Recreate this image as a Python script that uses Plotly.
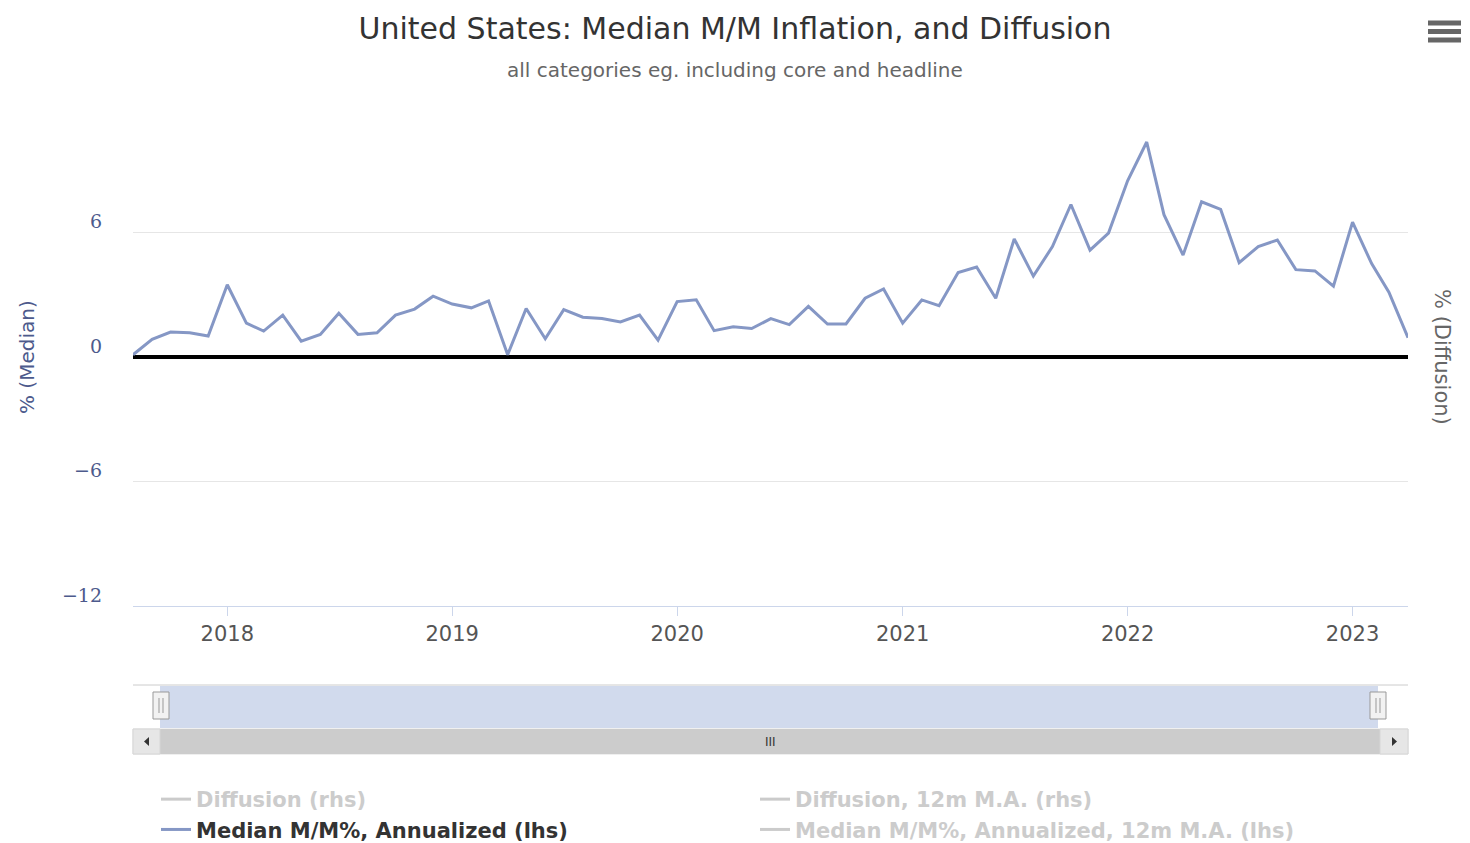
import plotly.graph_objects as go
import pandas as pd

# ---------------- data ----------------
months = pd.date_range("2017-08-01", "2023-04-01", freq="MS")
median_mm_annualized = [
    0.11, 0.85, 1.20, 1.17, 1.01,                     # 2017 Aug-Dec
    3.48, 1.63, 1.25, 2.02, 0.76, 1.09, 2.11, 1.09, 1.17, 2.02, 2.31, 2.93,  # 2018
    2.55, 2.37, 2.70, 0.11, 2.34, 0.88, 2.28, 1.92, 1.85, 1.69, 2.02, 0.81,  # 2019
    2.67, 2.76, 1.27, 1.46, 1.37, 1.85, 1.56, 2.44, 1.59, 1.59, 2.83, 3.28,  # 2020
    1.63, 2.75, 2.47, 4.07, 4.34, 2.83, 5.69, 3.90, 5.32, 7.35, 5.15, 5.97,  # 2021
    8.49, 10.36, 6.86, 4.91, 7.48, 7.11, 4.55, 5.32, 5.64, 4.21, 4.15, 3.41, # 2022
    6.50, 4.50, 3.12, 0.93,                            # 2023 Jan-Apr
]
# hidden (legend-only) series: values not shown in the chart
diffusion = [None] * len(months)
diffusion_12m_ma = [None] * len(months)
median_12m_ma = [None] * len(months)

series_names = [
    "Diffusion (rhs)",
    "Diffusion, 12m M.A. (rhs)",
    "Median M/M%, Annualized (lhs)",
    "Median M/M%, Annualized, 12m M.A. (lhs)",
]
y_tick_vals = [-12, -6, 0, 6, 12]
y_tick_text = ["\u221212", "\u22126", "0", "6", ""]

# ---------------- geometry helpers (decoration only) ----------------
OFF = 8                      # default page body margin
W, H = 1470 - OFF, 843 - OFF
L, R, T, B = 133 - OFF, 62, 108 - OFF, 237
PW, PH = W - L - R, H - T - B


def px(x):
    """page pixel x -> paper x"""
    return (x - OFF - L) / PW


def py(y):
    """page pixel y -> paper y"""
    return (OFF + H - B - y) / PH


LINE_COLOR = "#8597c5"
HIDDEN_LINE = "#999999"
HIDDEN_TXT = "#9a9a9a"

fig = go.Figure()

fig.add_trace(go.Scatter(
    x=months, y=diffusion, mode="lines", yaxis="y2", visible="legendonly",
    name=f"<span style='color:{HIDDEN_TXT}'>{series_names[0]}</span>",
    line=dict(color=HIDDEN_LINE, width=3)))
fig.add_trace(go.Scatter(
    x=months, y=diffusion_12m_ma, mode="lines", yaxis="y2", visible="legendonly",
    name=f"<span style='color:{HIDDEN_TXT}'>{series_names[1]}</span>",
    line=dict(color=HIDDEN_LINE, width=3)))
fig.add_trace(go.Scatter(
    x=months, y=median_mm_annualized, mode="lines",
    name=series_names[2],
    line=dict(color=LINE_COLOR, width=3)))
fig.add_trace(go.Scatter(
    x=months, y=median_12m_ma, mode="lines", visible="legendonly",
    name=f"<span style='color:{HIDDEN_TXT}'>{series_names[3]}</span>",
    line=dict(color=HIDDEN_LINE, width=3)))

shapes = []
# navigator outline
shapes.append(dict(type="line", xref="paper", yref="paper",
                   x0=px(133), x1=px(1408), y0=py(685), y1=py(685),
                   line=dict(color="#cccccc", width=1)))
# navigator mask
shapes.append(dict(type="rect", xref="paper", yref="paper",
                   x0=px(160), x1=px(1378), y0=py(686), y1=py(728),
                   fillcolor="rgba(102,133,194,0.3)", line=dict(width=0), layer="below"))
# scrollbar background
shapes.append(dict(type="rect", xref="paper", yref="paper",
                   x0=px(133), x1=px(1408), y0=py(729), y1=py(754),
                   fillcolor="#f2f2f2", line=dict(color="#e0e0e0", width=1), layer="below"))
# scrollbar thumb
shapes.append(dict(type="rect", xref="paper", yref="paper",
                   x0=px(160), x1=px(1380), y0=py(729), y1=py(754),
                   fillcolor="#cccccc", line=dict(width=0), layer="below"))
# scrollbar buttons
for x0, x1 in [(133, 160), (1380, 1408)]:
    shapes.append(dict(type="rect", xref="paper", yref="paper",
                       x0=px(x0), x1=px(x1), y0=py(729), y1=py(754),
                       fillcolor="#e6e6e6", line=dict(color="#d6d6d6", width=1), layer="below"))
# arrows
shapes.append(dict(type="path", xref="paper", yref="paper",
                   path=f"M {px(144)} {py(741.5)} L {px(149)} {py(737)} L {px(149)} {py(746)} Z",
                   fillcolor="#333333", line=dict(width=0)))
shapes.append(dict(type="path", xref="paper", yref="paper",
                   path=f"M {px(1397)} {py(741.5)} L {px(1392)} {py(737)} L {px(1392)} {py(746)} Z",
                   fillcolor="#333333", line=dict(width=0)))
# handles
for cx in (161, 1378):
    shapes.append(dict(type="rect", xref="paper", yref="paper",
                       x0=px(cx - 8), x1=px(cx + 8), y0=py(692), y1=py(719),
                       fillcolor="#f2f2f2", line=dict(color="#999999", width=1)))
    for dx in (-2, 2):
        shapes.append(dict(type="line", xref="paper", yref="paper",
                           x0=px(cx + dx), x1=px(cx + dx), y0=py(698), y1=py(713),
                           line=dict(color="#999999", width=1)))
# hamburger menu icon
for yy in (23, 31.5, 40):
    shapes.append(dict(type="line", xref="paper", yref="paper",
                       x0=px(1428), x1=px(1461), y0=py(yy), y1=py(yy),
                       line=dict(color="#666666", width=5)))

annotations = [
    dict(text="all categories eg. including core and headline", xref="paper", yref="paper",
         x=px(735), y=py(70), showarrow=False, xanchor="center", yanchor="middle",
         font=dict(family="DejaVu Sans", size=20, color="#666666")),
    dict(text="% (Median)", xref="paper", yref="paper", x=px(27), y=py(357),
         textangle=-90, showarrow=False, xanchor="center", yanchor="middle",
         font=dict(family="DejaVu Sans", size=20, color="#4d5a8c")),
    dict(text="% (Diffusion)", xref="paper", yref="paper", x=px(1442), y=py(357),
         textangle=90, showarrow=False, xanchor="center", yanchor="middle",
         font=dict(family="DejaVu Sans", size=21, color="#666666")),
    dict(text="III", xref="paper", yref="paper", x=px(770), y=py(741.5),
         showarrow=False, xanchor="center", yanchor="middle",
         font=dict(family="DejaVu Sans", size=12, color="#333333")),
]

fig.update_layout(
    width=W, height=H,
    margin=dict(l=L, r=R, t=T, b=B, pad=0, autoexpand=False),
    paper_bgcolor="white", plot_bgcolor="white",
    title=dict(text="United States: Median M/M Inflation, and Diffusion",
               x=(735 - OFF) / W, xref="container", xanchor="center",
               y=1 - (28 - OFF) / H, yref="container", yanchor="middle",
               font=dict(family="DejaVu Sans", size=30, color="#333333")),
    xaxis=dict(
        type="date", range=["2017-08-01", "2023-04-01"],
        tickformat="%Y", dtick="M12", tick0="2018-01-01",
        ticks="outside", ticklen=9, tickcolor="#ccd6eb", tickwidth=1,
        showline=True, linecolor="#ccd6eb", linewidth=1,
        showgrid=False, zeroline=False, automargin=False,
        tickfont=dict(family="DejaVu Sans", size=21, color="#555555"),
    ),
    yaxis=dict(
        range=[-12, 12], tickvals=y_tick_vals, ticktext=y_tick_text,
        showgrid=True, gridcolor="#e6e6e6", gridwidth=1,
        zeroline=True, zerolinecolor="#000000", zerolinewidth=4,
        showline=False, ticks="", automargin=False,
        ticklabelshift=-11, ticklabelstandoff=30,
        tickfont=dict(family="DejaVu Serif", size=19, color="#4d5a8c"),
    ),
    yaxis2=dict(
        overlaying="y", side="right", range=[0, 100], automargin=False,
        showgrid=False, showticklabels=False, zeroline=False, showline=False, ticks="",
    ),
    showlegend=True,
    legend=dict(
        orientation="h", x=px(156), xanchor="left", y=py(779), yanchor="top",
        entrywidth=554, entrywidthmode="pixels", itemwidth=30,
        traceorder="normal",
        font=dict(family="DejaVu Sans", size=21, color="#333333", weight="bold"),
        bgcolor="rgba(0,0,0,0)",
    ),
    shapes=shapes,
    annotations=annotations,
)

fig.write_html("out.html")
